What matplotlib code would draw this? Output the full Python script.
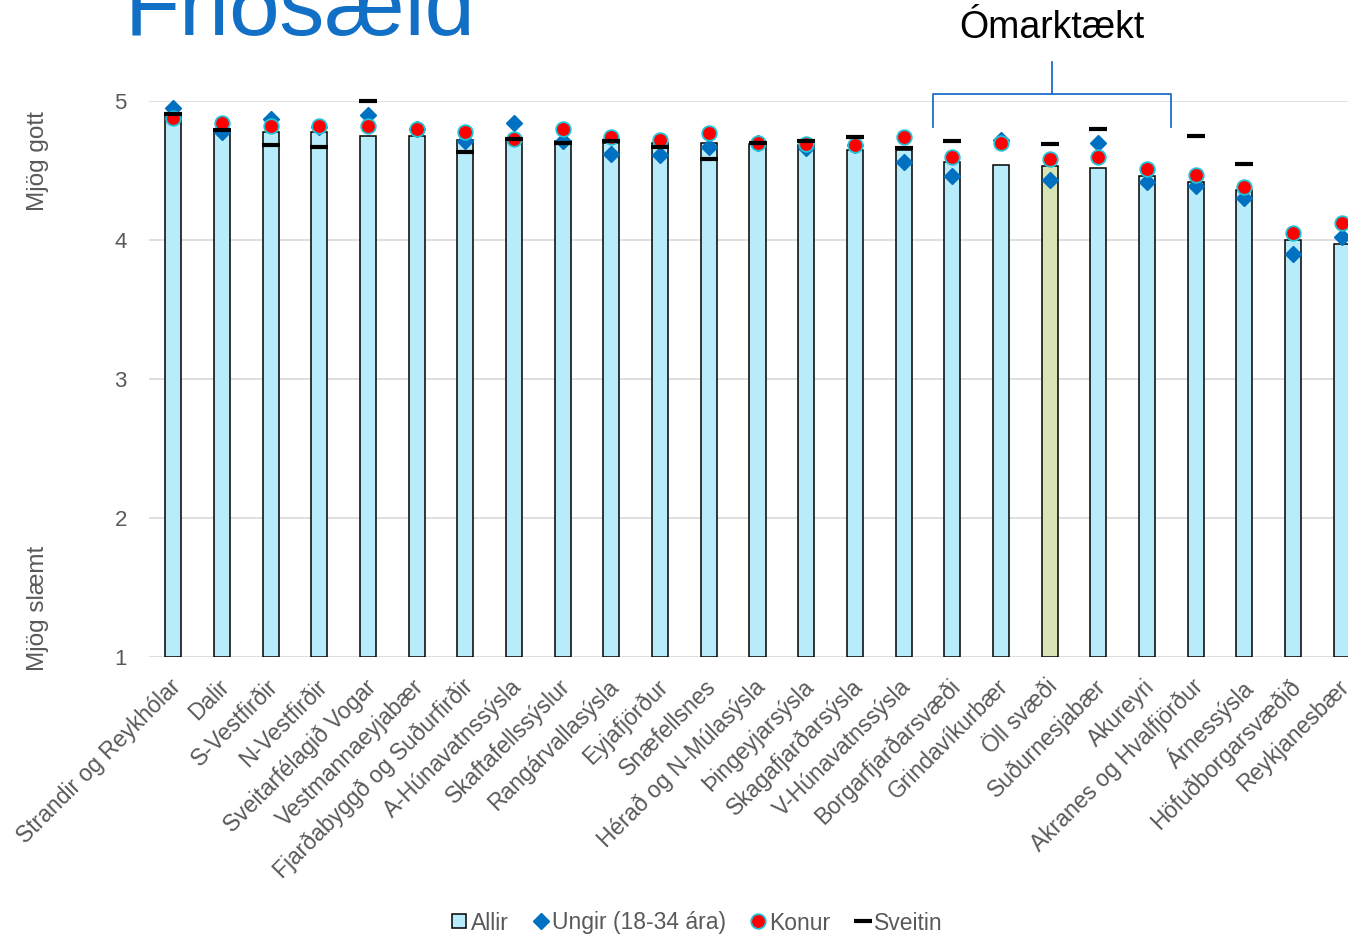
import numpy as np
import matplotlib
matplotlib.use('Agg')
import matplotlib.pyplot as plt
import matplotlib.transforms as mtransforms
from matplotlib.lines import Line2D

plt.rcParams['font.family'] = ['Liberation Sans', 'DejaVu Sans']

# Gögn
svaedi = ['Strandir og Reykhólar', 'Dalir', 'S-Vestfirðir', 'N-Vestfirðir',
          'Sveitarfélagið Vogar', 'Vestmannaeyjabær', 'Fjarðabyggð og Suðurfirðir',
          'A-Húnavatnssýsla', 'Skaftafellssýslur', 'Rangárvallasýsla', 'Eyjafjörður',
          'Snæfellsnes', 'Hérað og N-Múlasýsla', 'Þingeyjarsýsla', 'Skagafjarðarsýsla',
          'V-Húnavatnssýsla', 'Borgarfjarðarsvæði', 'Grindavíkurbær', 'Öll svæði',
          'Suðurnesjabær', 'Akureyri', 'Akranes og Hvalfjörður', 'Árnessýsla',
          'Höfuðborgarsvæðið', 'Reykjanesbær']
allir = [4.90, 4.80, 4.78, 4.78, 4.75, 4.75, 4.72, 4.72, 4.71, 4.70, 4.70, 4.70, 4.69,
         4.68, 4.65, 4.65, 4.56, 4.54, 4.53, 4.52, 4.46, 4.42, 4.36, 4.00, 3.97]
ungir = [4.95, 4.78, 4.87, 4.81, 4.90, 4.80, 4.71, 4.84, 4.71, 4.62, 4.61, 4.67, 4.70,
         4.66, 4.68, 4.56, 4.46, 4.72, 4.43, 4.70, 4.42, 4.39, 4.30, 3.90, 4.02]
konur = [4.88, 4.84, 4.82, 4.82, 4.82, 4.80, 4.78, 4.73, 4.80, 4.74, 4.72, 4.77, 4.70,
         4.69, 4.68, 4.74, 4.60, 4.70, 4.58, 4.60, 4.51, 4.47, 4.38, 4.05, 4.12]
nan = np.nan
sveitin = [4.91, 4.79, 4.68, 4.67, 5.00, nan, 4.63, 4.73, 4.70, 4.71, 4.67, 4.58, 4.70,
           4.71, 4.74, 4.66, 4.71, nan, 4.69, 4.80, nan, 4.75, 4.55, nan, nan]
y_ticks = [1, 2, 3, 4, 5]

LJOSBLAR = '#B9ECFA'
GRAENN = '#D8E4B4'
BLAR = '#0070C0'
GRAR = '#595959'

fig = plt.figure(figsize=(13.48, 9.36), dpi=100)
ax = fig.add_axes([149 / 1348, 279 / 936, 1217 / 1348, 556 / 936])

x = np.arange(len(svaedi))
litir = [GRAENN if s == 'Öll svæði' else LJOSBLAR for s in svaedi]
ax.bar(x, np.array(allir) - 1, bottom=1, width=0.33, color=litir,
       edgecolor='black', linewidth=1.1, zorder=2)
ax.plot(x, ungir, ls='none', marker='D', ms=8.5, color=BLAR, zorder=3, clip_on=False)
ax.plot(x, konur, ls='none', marker='o', ms=10.5, mfc='#FF0000', mec='#22C3D8',
        mew=1.3, zorder=4, clip_on=False)
ax.plot(x, sveitin, ls='none', marker='_', ms=13, mew=3, color='black', zorder=5,
        clip_on=False)

ax.set_xlim(-0.5, len(svaedi) - 0.5)
ax.set_ylim(1, 5)
ax.set_yticks(y_ticks)
ax.yaxis.grid(True, color='#D9D9D9', lw=1.2)
ax.set_axisbelow(True)
for s in ax.spines.values():
    s.set_visible(False)
ax.tick_params(axis='y', length=0, pad=16, labelsize=16, labelcolor=GRAR)
ax.tick_params(axis='x', length=0, pad=13, labelsize=16.5, labelcolor=GRAR)
ax.set_xticks(x)
ax.set_xticklabels(svaedi, rotation=45, ha='right', va='top', rotation_mode='anchor')
skekkja = mtransforms.ScaledTranslation(-4 / 100, 0, fig.dpi_scale_trans)
for lab in ax.get_xticklabels():
    lab.set_transform(lab.get_transform() + skekkja)

# Ómarktækt svigi
bx0, bx1 = 15.6, 20.5
bm = (bx0 + bx1) / 2
ax.plot([bx0, bx0, bx1, bx1], [4.815, 5.048, 5.048, 4.815], color='#1F6FC8',
        lw=1.3, clip_on=False)
ax.plot([bm, bm], [5.048, 5.283], color='#1F6FC8', lw=1.3, clip_on=False)
ax.text(bm, 5.525, 'Ómarktækt', ha='center', va='center', fontsize=27, color='black')

fig.text(125 / 1348, 1 - 35 / 936, 'Friðsæld', va='baseline', ha='left',
         fontsize=65, color='#1170C5')
fig.text(38 / 1348, 1 - 161 / 936, 'Mjög gott', rotation=90, ha='center',
         va='center', fontsize=17.5, color=GRAR)
fig.text(38 / 1348, 1 - 608 / 936, 'Mjög slæmt', rotation=90, ha='center',
         va='center', fontsize=17.5, color=GRAR)

handles = [
    Line2D([], [], ls='none', marker='s', ms=10, mfc=LJOSBLAR, mec='black', mew=1.1),
    Line2D([], [], ls='none', marker='D', ms=8.5, color=BLAR),
    Line2D([], [], ls='none', marker='o', ms=10.5, mfc='#FF0000', mec='#22C3D8', mew=1.3),
    Line2D([], [], ls='none', marker='_', ms=13, mew=3, color='black'),
]
leg = fig.legend(handles, ['Allir', 'Ungir (18-34 ára)', 'Konur', 'Sveitin'],
                 loc='center', bbox_to_anchor=(697 / 1348, 1 - 923 / 936), ncol=4,
                 frameon=False, fontsize=16.5, handlelength=0.7, handletextpad=0.15,
                 columnspacing=1.05, borderpad=0)
for t in leg.get_texts():
    t.set_color(GRAR)

fig.savefig('out.png', dpi=100)
